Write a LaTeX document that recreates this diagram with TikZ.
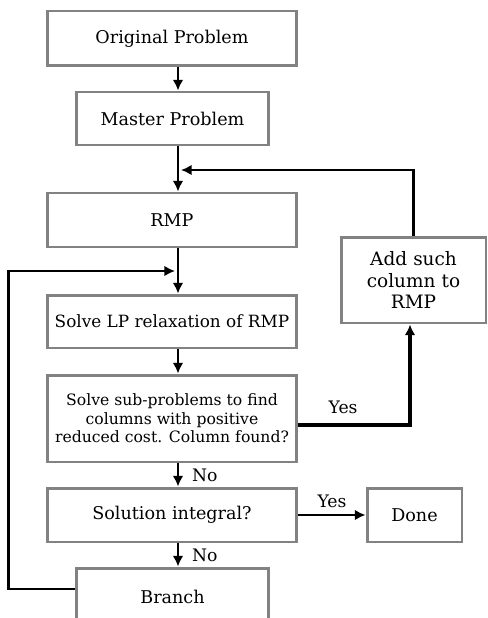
\documentclass[tikz,border=0pt]{standalone}
\usepackage{fontspec}
\setmainfont{DejaVu Serif}
\usetikzlibrary{arrows.meta}
\definecolor{boxgray}{RGB}{130,130,133}
\begin{document}
\begin{tikzpicture}[>={Latex[length=6pt,width=6pt]}, x=0.02cm, y=-0.02cm,
  box/.style={draw=boxgray, line width=1.7pt, align=center, inner sep=2pt, font=\fontsize{10}{11}\selectfont},
  flow/.style={->, line width=1.3pt},
  lbl/.style={font=\fontsize{9.8}{10}\selectfont}]
\useasboundingbox (0,0) rectangle (487,618);
\clip (0,0) rectangle (487,618);
\path
(172,38.5)    node[box, minimum width=5cm, minimum height=1.1cm]   (orig)   {Original Problem}
(172.5,118.5) node[box, minimum width=3.86cm, minimum height=1.06cm] (master) {Master Problem}
(172,220)     node[box, minimum width=5cm, minimum height=1.08cm]  (rmp)    {RMP}
(172,321.5)   node[box, minimum width=5cm, minimum height=1.06cm, font=\fontsize{9.6}{11}\selectfont]  (lp)     {Solve LP relaxation of RMP}
(172,418.5)   node[box, minimum width=5cm, minimum height=1.74cm, font=\fontsize{8.9}{10.6}\selectfont] (sub)
              {Solve sub-problems to find\\columns with positive\\reduced cost. Column found?}
(172,515)     node[box, minimum width=5cm, minimum height=1.08cm]  (integ)  {Solution integral?}
(172.5,597)   node[box, minimum width=3.86cm, minimum height=1.16cm] (branch) {Branch}
(413.5,280)   node[box, minimum width=2.9cm, minimum height=1.72cm, text width=2.5cm, font=\fontsize{10.5}{12.5}\selectfont] (add)
              {Add such\\column to\\RMP}
(414.5,515)   node[box, minimum width=1.9cm, minimum height=1.08cm] (done)   {Done};

% main spine
\coordinate (spine) at (178,0);
\coordinate (j1) at (181,170);
\coordinate (j2) at (175,271);
\draw[flow] (orig.south -| spine)   -- (master.north -| spine);
\draw[flow] (master.south -| spine) -- (rmp.north -| spine);
\draw[flow] (rmp.south -| spine)    -- (lp.north -| spine);
\draw[flow] (lp.south -| spine)     -- (sub.north -| spine);
\draw[flow] (sub.south -| spine)    -- (integ.north -| spine) node[midway, right=4pt, lbl]{No};
\draw[flow] (integ.south -| spine)  -- (branch.north -| spine) node[midway, right=4pt, lbl]{No};

% loops
\draw[flow] (add.north) |- (j1);
\draw[flow, line width=2pt] ([yshift=-0.13cm]sub.east) -| ([xshift=-0.07cm]add.south) node[pos=.2, above=2pt, lbl]{Yes};
\draw[flow] (integ.east) -- (done.west) node[midway, above, lbl]{Yes};
\draw[flow] ([yshift=0.16cm]branch.west) -- ++(-66,0) |- (j2);
\end{tikzpicture}
\end{document}
